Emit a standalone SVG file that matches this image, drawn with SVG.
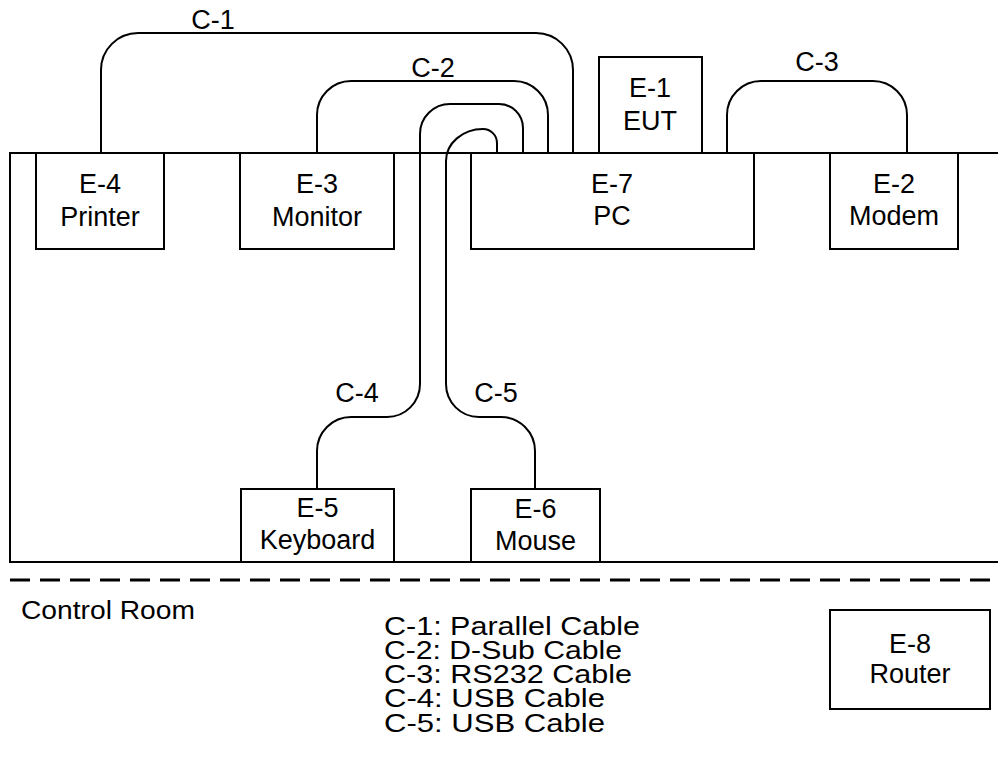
<svg xmlns="http://www.w3.org/2000/svg" width="998" height="772" viewBox="0 0 998 772">
<style>
.box{fill:#fff;stroke:#000;stroke-width:2}
.lbl{font-family:"Liberation Sans",Arial,sans-serif;font-size:27px;fill:#000;text-anchor:middle}
.leg{font-family:"Liberation Sans",Arial,sans-serif;font-size:25px;fill:#000}
.cab{fill:none;stroke:#000;stroke-width:2}
</style>
<rect width="998" height="772" fill="#fff"/>
<g id="room">
<path d="M998,153 H10 V562 H998" fill="none" stroke="#000" stroke-width="2"/>
<line x1="10" y1="580" x2="998" y2="580" stroke="#000" stroke-width="3" stroke-dasharray="20 10"/>
<text class="leg" x="21" y="619" textLength="174" lengthAdjust="spacingAndGlyphs">Control Room</text>
</g>
<g id="connectors">
<path class="cab" d="M101,153 V70 A37,37 0 0 1 138,33 H536 A37,37 0 0 1 573,70 V153"/>
<path class="cab" d="M317,153 V115 A34,34 0 0 1 351,81 H514 A34,34 0 0 1 548,115 V153"/>
<path class="cab" d="M727,153 V115 A34,34 0 0 1 761,81 H873 A34,34 0 0 1 907,115 V153"/>
<path class="cab" d="M523,153 V128 A24,24 0 0 0 499,104 H450 A30,30 0 0 0 420,134 V384 A33,33 0 0 1 387,417 H351 A34,34 0 0 0 317,451 V489"/>
<path class="cab" d="M497,153 V143 A14,14 0 0 0 483,129 A37,32 0 0 0 446,161 V384 A33,33 0 0 0 479,417 H501 A34,34 0 0 1 535,451 V489"/>
<text class="lbl" x="213" y="29">C-1</text>
<text class="lbl" x="433" y="77">C-2</text>
<text class="lbl" x="817" y="71">C-3</text>
<text class="lbl" x="357" y="402">C-4</text>
<text class="lbl" x="496" y="402">C-5</text>
</g>
<g id="E-1"><rect class="box" x="599" y="57" width="103" height="96"/><text class="lbl" x="650" y="97">E-1</text><text class="lbl" x="650" y="130">EUT</text></g>
<g id="E-4"><rect class="box" x="36" y="153" width="128" height="96"/><text class="lbl" x="100" y="193">E-4</text><text class="lbl" x="100" y="226">Printer</text></g>
<g id="E-3"><rect class="box" x="240" y="153" width="154" height="96"/><text class="lbl" x="317" y="193">E-3</text><text class="lbl" x="317" y="226">Monitor</text></g>
<g id="E-7"><rect class="box" x="471" y="153" width="283" height="96"/><text class="lbl" x="612" y="193">E-7</text><text class="lbl" x="612" y="225">PC</text></g>
<g id="E-2"><rect class="box" x="830" y="153" width="128" height="96"/><text class="lbl" x="894" y="193">E-2</text><text class="lbl" x="894" y="225">Modem</text></g>
<g id="E-5"><rect class="box" x="241" y="489" width="153" height="73"/><text class="lbl" x="317.5" y="517">E-5</text><text class="lbl" x="317.5" y="549">Keyboard</text></g>
<g id="E-6"><rect class="box" x="471" y="489" width="129" height="73"/><text class="lbl" x="535.5" y="518">E-6</text><text class="lbl" x="535.5" y="550">Mouse</text></g>
<g id="E-8"><rect class="box" x="830" y="610" width="160" height="99"/><text class="lbl" x="910" y="653">E-8</text><text class="lbl" x="910" y="683">Router</text></g>
<g id="legend">
<text class="leg" x="384" y="635" textLength="256" lengthAdjust="spacingAndGlyphs">C-1: Parallel Cable</text>
<text class="leg" x="384" y="659" textLength="238" lengthAdjust="spacingAndGlyphs">C-2: D-Sub Cable</text>
<text class="leg" x="384" y="683" textLength="248" lengthAdjust="spacingAndGlyphs">C-3: RS232 Cable</text>
<text class="leg" x="384" y="707" textLength="221" lengthAdjust="spacingAndGlyphs">C-4: USB Cable</text>
<text class="leg" x="384" y="732" textLength="221" lengthAdjust="spacingAndGlyphs">C-5: USB Cable</text>
</g>
</svg>
